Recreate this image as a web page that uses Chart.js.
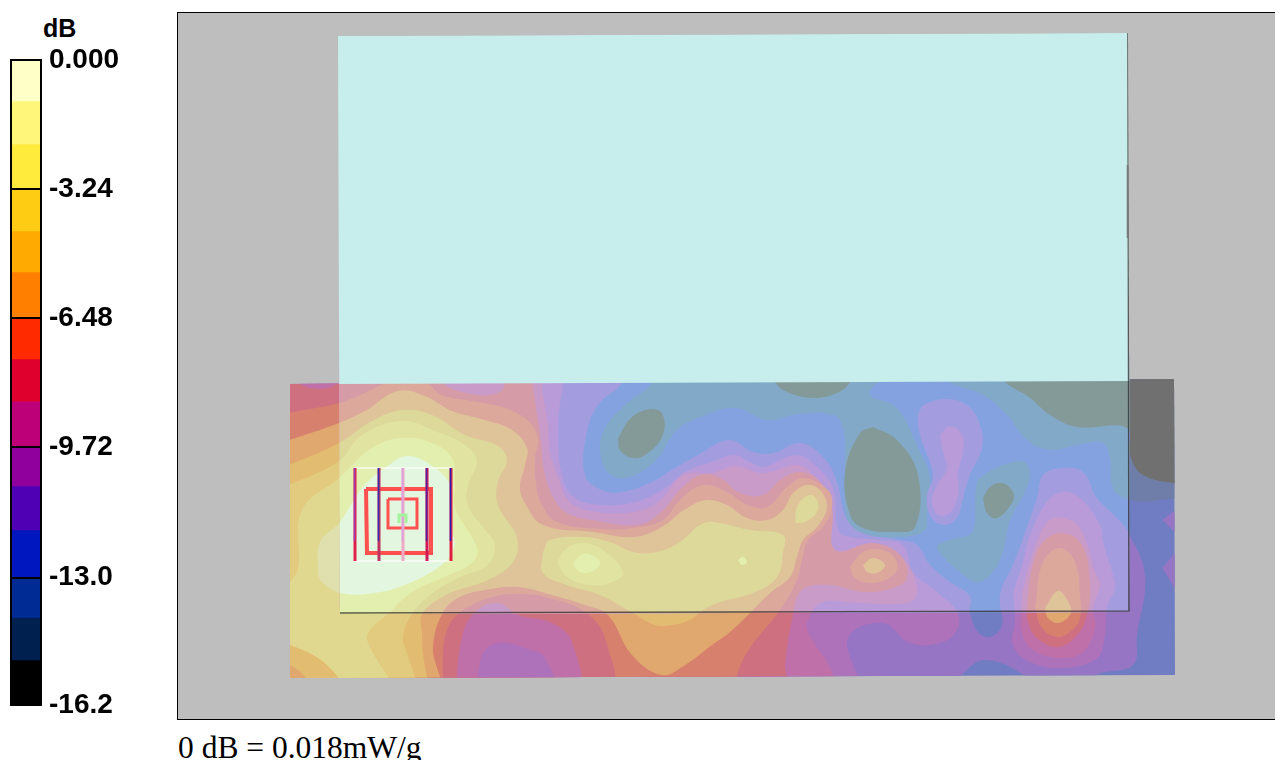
<!DOCTYPE html>
<html lang="en">
<head>
<meta charset="UTF-8">
<title>SAR scan</title>
<script src="https://cdn.jsdelivr.net/npm/chart.js"></script>
<style>
    html, body { margin: 0; padding: 0; background: #fff; overflow: hidden; }
    canvas { position: absolute; display: block; }
    #scale { left: 0; top: 0; }
    #frame { position: absolute; left: 177px; top: 12px; width: 1098px; height: 706px; background: #bebebe;
             border: 1px solid #000; border-right: none; box-sizing: content-box; }
    #field, #phantom { left: 0; top: 0; }
    #unit { position: absolute; left: 43px; top: 14px; font: bold 25px "Liberation Sans", sans-serif; }
    #caption { position: absolute; left: 178px; top: 730px; font: 31.5px "Liberation Serif", serif; white-space: nowrap; }
</style>
</head>
<body>
<div id="unit">dB</div>
<canvas id="scale" width="178" height="730"></canvas>
<div id="frame">
    <canvas id="field" width="1098" height="706"></canvas>
    <canvas id="phantom" width="1098" height="706"></canvas>
</div>
<div id="caption">0 dB = 0.018mW/g</div>

<script>
// colour scale, top band first
const bandSizes = [1.03, 1.08, 1.13, 1.05, 1.03, 1.16, 1.03, 1.06, 1.15, 0.98, 1.1, 1.2, 1.0, 1.07, 1.13];
const bandColors = ['#FFFFC8', '#FFF67A', '#FFEB3C', '#FFCC14', '#FFAA00', '#FF7F00', '#FF2A00', '#E0002D',
                    '#BE0078', '#90009C', '#5000B4', '#0016BE', '#002B94', '#002050', '#000000'];
const tickValues = [0, -3.24, -6.48, -9.72, -13.0, -16.2];
const tickLabels = ['0.000', '-3.24', '-6.48', '-9.72', '-13.0', '-16.2'];

// field colours per contour level, low to high: bare field and seen through the phantom
const outsideColors = ['#707070', '#6F7EA8', '#717DC2', '#9575C4', '#AE72BA', '#BF70A8', '#CE7080', '#D8806E',
                       '#E0A86E', '#E2BC70', '#E2CA7E', '#E0D88E', '#E0DFAE'];
const insideColors = ['#849A99', '#83A9C8', '#84A2E0', '#A39DE0', '#B89BD8', '#C89BC8', '#D59CA8', '#DCA89C',
                      '#DEC498', '#DDD99A', '#E1E4A0', '#E2EFAE', '#E3F6DF'];

// contours, [x, y]
const base = [[280, 370], [1185, 370], [1185, 690], [280, 690]];
const gray1 = [[1003, 370], [1003, 380], [1030, 398], [1050, 415], [1077, 427], [1127, 428], [1130, 455], [1143, 475], [1180, 484], [1190, 484], [1190, 370]];
const gray2 = [[873, 427], [860, 433], [845, 472], [850, 515], [863, 528], [893, 532], [915, 527], [918, 475], [897, 440]];
const gray3 = [[775, 370], [775, 382], [787, 392], [813, 398], [837, 393], [850, 382], [850, 370]];
const gray4 = [[983, 498], [990, 487], [1002, 483], [1013, 492], [1012, 503], [997, 518], [987, 513]];
const gray5 = [[618, 438], [632, 417], [652, 409], [663, 415], [662, 437], [645, 455], [632, 458], [620, 450]];
const teal1 = [[652, 370], [652, 383], [625, 405], [603, 432], [602, 462], [615, 477], [635, 475], [658, 458], [675, 432], [698, 418], [735, 408], [767, 420], [800, 414], [833, 415], [843, 428], [845, 458], [845, 502], [850, 525], [870, 535], [903, 537], [925, 530], [927, 515], [930, 478], [920, 452], [897, 408], [870, 395], [877, 383], [887, 376], [887, 370]];
const teal2 = [[950, 370], [950, 382], [983, 395], [1007, 415], [1027, 440], [1050, 450], [1077, 445], [1103, 443], [1110, 458], [1113, 488], [1130, 500], [1160, 500], [1190, 490], [1190, 370]];
const teal3 = [[975, 498], [980, 478], [1017, 461], [1028, 465], [1028, 485], [1010, 520], [1000, 560], [980, 582], [960, 572], [940, 553], [938, 545], [950, 540], [972, 532]];
const indigoMain = [[280, 370], [622, 370], [622, 383], [598, 405], [587, 432], [585, 475], [602, 490], [622, 492], [652, 482], [675, 468], [698, 455], [730, 440], [753, 452], [773, 453], [800, 443], [823, 457], [837, 482], [845, 515], [860, 532], [900, 540], [917, 545], [930, 565], [950, 582], [970, 596], [970, 612], [978, 632], [990, 637], [1002, 625], [1000, 595], [1013, 565], [1023, 538], [1037, 498], [1043, 475], [1063, 468], [1083, 472], [1097, 498], [1117, 518], [1128, 532], [1145, 575], [1137, 635], [1133, 665], [1097, 675], [1090, 690], [1030, 690], [1027, 677], [985, 660], [962, 675], [955, 690], [280, 690]];
const indigoIsle = [[923, 405], [943, 399], [967, 405], [980, 425], [982, 448], [970, 475], [963, 498], [957, 518], [943, 525], [930, 515], [927, 495], [933, 475], [920, 435], [918, 415]];
const indigoEdge1 = [[1162, 520], [1180, 510], [1180, 534]];
const indigoEdge2 = [[1162, 568], [1180, 551], [1180, 592]];
const purpleMain = [[280, 370], [563, 370], [563, 383], [558, 425], [562, 475], [575, 498], [605, 505], [635, 502], [662, 490], [685, 472], [712, 462], [735, 455], [750, 462], [763, 467], [797, 455], [817, 467], [833, 488], [837, 525], [843, 535], [877, 540], [903, 545], [913, 572], [937, 592], [957, 612], [958, 628], [943, 642], [910, 643], [883, 623], [848, 638], [853, 690], [280, 690]];
const purplePeak = [[1013, 593], [1023, 562], [1030, 535], [1047, 502], [1063, 492], [1080, 498], [1100, 525], [1103, 542], [1113, 575], [1115, 588], [1107, 608], [1105, 635], [1097, 658], [1063, 668], [1030, 662], [1013, 645], [1015, 620]];
const purpleIsle = [[940, 435], [950, 426], [962, 435], [963, 452], [958, 472], [958, 495], [950, 513], [938, 515], [932, 502], [937, 485], [947, 468], [943, 452]];
const magentaMain = [[280, 370], [542, 370], [542, 388], [548, 425], [550, 452], [558, 477], [570, 502], [597, 512], [633, 512], [657, 503], [677, 480], [687, 473], [712, 473], [735, 466], [763, 473], [797, 465], [813, 475], [830, 498], [833, 548], [877, 545], [903, 558], [917, 588], [910, 602], [857, 603], [823, 602], [810, 615], [808, 632], [830, 668], [832, 690], [280, 690]];
const magentaPeak = [[1022, 595], [1030, 562], [1047, 522], [1063, 518], [1080, 528], [1095, 572], [1100, 585], [1093, 608], [1095, 628], [1083, 652], [1060, 658], [1033, 650], [1022, 632]];
const crimsonMain = [[280, 370], [442, 370], [442, 383], [472, 394], [498, 393], [505, 383], [505, 370], [530, 370], [533, 388], [538, 420], [541, 442], [544, 470], [553, 497], [567, 513], [593, 520], [637, 525], [660, 513], [680, 490], [700, 475], [720, 478], [740, 493], [763, 495], [780, 480], [800, 472], [820, 482], [832, 508], [835, 550], [873, 543], [900, 555], [907, 578], [893, 588], [863, 592], [830, 585], [802, 590], [793, 615], [785, 665], [785, 690], [280, 690]];
const crimsonPeak = [[1027, 605], [1032, 568], [1043, 542], [1063, 533], [1082, 545], [1090, 582], [1087, 615], [1077, 635], [1058, 647], [1037, 638], [1028, 622]];
const redMain = [[280, 415], [289, 413], [339, 403], [365, 393], [388, 383], [425, 383], [442, 395], [472, 401], [505, 408], [528, 421], [538, 438], [535, 458], [536, 483], [542, 505], [557, 522], [600, 529], [633, 528], [663, 520], [680, 500], [703, 485], [727, 492], [748, 505], [767, 507], [787, 487], [803, 478], [828, 490], [832, 507], [823, 527], [808, 540], [802, 560], [797, 580], [780, 610], [750, 648], [737, 675], [737, 690], [280, 690]];
const redSpot = [[850, 567], [863, 552], [883, 550], [897, 562], [893, 575], [873, 583], [855, 578]];
const redPeak = [[1035, 608], [1043, 562], [1060, 548], [1075, 562], [1080, 595], [1080, 618], [1070, 632], [1057, 637], [1042, 628]];
const orangeMain = [[280, 442], [289, 440], [339, 423], [365, 411], [398, 391], [425, 396], [452, 411], [485, 420], [512, 430], [527, 448], [525, 465], [520, 487], [525, 503], [543, 525], [593, 532], [633, 537], [660, 528], [687, 508], [707, 500], [727, 505], [747, 518], [767, 520], [783, 510], [793, 493], [807, 485], [820, 490], [827, 507], [817, 527], [803, 540], [797, 557], [790, 577], [770, 593], [750, 613], [730, 632], [712, 645], [685, 665], [662, 675], [632, 655], [608, 615], [585, 605], [552, 595], [518, 587], [485, 590], [458, 598], [442, 614], [433, 647], [436, 690], [280, 690]];
const orangeSpot = [[863, 565], [873, 558], [885, 565], [877, 573], [867, 572]];
const orangePeak = [[1045, 608], [1058, 591], [1070, 605], [1070, 615], [1058, 623], [1048, 618]];
const amberMain = [[280, 468], [289, 465], [339, 443], [372, 421], [402, 410], [432, 415], [465, 435], [498, 446], [507, 461], [498, 481], [498, 505], [517, 538], [513, 562], [488, 580], [458, 590], [442, 597], [422, 614], [422, 633], [423, 653], [427, 677], [430, 690], [280, 690]];
const amberRight = [[543, 552], [550, 540], [583, 537], [610, 542], [633, 552], [657, 552], [680, 542], [700, 525], [713, 522], [750, 530], [783, 535], [783, 553], [777, 577], [753, 593], [720, 602], [703, 610], [690, 620], [672, 625], [655, 625], [633, 613], [600, 595], [567, 585], [543, 573]];
const amberTip = [[795, 523], [798, 505], [810, 495], [817, 500], [817, 512], [805, 522]];
const goldMain = [[280, 487], [289, 485], [339, 461], [362, 435], [402, 421], [435, 431], [465, 445], [477, 461], [468, 485], [468, 506], [487, 532], [495, 545], [488, 565], [458, 578], [430, 595], [412, 614], [403, 637], [407, 653], [415, 677], [418, 690], [280, 690]];
const goldRight = [[557, 562], [567, 548], [583, 543], [603, 550], [623, 573], [610, 583], [590, 585], [567, 577]];
const amberCornerLow = [[280, 643], [290, 645], [318, 658], [338, 677], [345, 690], [280, 690]];
const orangeCornerLow = [[280, 662], [290, 665], [305, 677], [310, 690], [280, 690]];
const yellowMain = [[280, 592], [290, 582], [298, 568], [302, 510], [339, 478], [372, 448], [402, 438], [432, 443], [452, 458], [455, 485], [455, 508], [477, 548], [472, 563], [442, 578], [412, 592], [388, 614], [368, 633], [370, 647], [388, 677], [395, 690], [280, 690]];
const yellowRight = [[573, 563], [583, 554], [597, 558], [600, 565], [587, 573], [577, 570]];
const yellowDot = [[738, 560], [743, 557], [747, 562], [742, 565]];
const paleMain = [[318, 575], [320, 542], [340, 522], [362, 488], [385, 468], [408, 456], [435, 468], [450, 485], [450, 508], [452, 532], [455, 545], [445, 562], [412, 582], [375, 593], [340, 593], [322, 582]];
const pitCrimson = [[444, 695], [443, 653], [448, 627], [458, 614], [472, 605], [492, 597], [518, 594], [545, 597], [585, 612], [605, 638], [608, 695]];
const pitMagenta = [[455, 695], [462, 637], [475, 612], [498, 603], [518, 615], [552, 623], [572, 642], [575, 695]];
const pitPurple = [[477, 695], [482, 655], [498, 643], [525, 648], [545, 658], [553, 695]];
const cornerMagenta = [[295, 375], [300, 384], [318, 389], [335, 385], [340, 375]];

// painted in this order, [contour, level]
const fieldLayers = [
    [base, 2], [gray1, 0], [teal1, 1], [teal2, 1], [teal3, 1], [gray1, 0], [gray2, 0], [gray3, 0], [gray4, 0], [gray5, 0],
    [indigoMain, 3], [indigoIsle, 3], [indigoEdge1, 3], [indigoEdge2, 3],
    [purpleMain, 4], [purplePeak, 4], [purpleIsle, 4],
    [magentaMain, 5], [magentaPeak, 5],
    [crimsonMain, 6], [crimsonPeak, 6],
    [redMain, 7], [redSpot, 7], [redPeak, 7],
    [orangeMain, 8], [orangeSpot, 8], [orangePeak, 8],
    [amberMain, 9], [amberRight, 9], [amberTip, 9],
    [goldMain, 10], [goldRight, 10],
    [yellowMain, 11], [yellowRight, 11], [yellowDot, 11],
    [amberCornerLow, 9], [orangeCornerLow, 8],
    [paleMain, 12],
    [pitCrimson, 6], [pitMagenta, 5], [pitPurple, 4], [cornerMagenta, 5]
];

const fieldEdge = [[290, 384], [1174, 379], [1175, 675], [290, 678]];
const phantomEdge = [[338, 36], [1128, 33], [1130, 612], [340, 614]];
const phantomTop = [[338, 36], [1128, 33], [1130, 381], [338, 384]];
const phantomLine = [[1128, 33], [1129, 611], [340, 613]];
const phantomDark = [[1128, 165], [1128, 238]];

// probe: the five leads, frame and the two square windings
const leadX = [355, 379, 403, 427, 451];
const leadColors = ['#E0204C', '#C03060', '#EFA8C8', '#D01858', '#E02040'];
const leadInner = ['#A040B0', '#3030B0', '#D8A0E0', '#5020A0', '#2020C0'];
const leadTop = 468;
const leadBottom = 561;
const probeFrame = [[355, 468], [451, 468], [451, 561], [355, 561], [355, 468]];
const windingOuter = [[366, 489], [431, 489], [431, 553], [367, 553], [366, 489]];
const windingInner = [[388, 499], [417, 499], [417, 528], [388, 528], [388, 499]];
const probeCentre = [[399, 523], [399, 515], [406, 515], [406, 523]];

function toPoints(list) {
    return list.map(p => ({ x: p[0], y: p[1] }));
}

function filled(list, color, tension) {
    const pts = toPoints(list);
    pts.push(pts[0]);
    return { data: pts, showLine: true, fill: 'shape', backgroundColor: color, borderWidth: 0, pointRadius: 0, tension: tension };
}

function stroked(list, color, width) {
    return { data: toPoints(list), showLine: true, fill: false, borderColor: color, borderWidth: width, pointRadius: 0, tension: 0 };
}

function layerSets(colors) {
    return fieldLayers.map(l => filled(l[0], colors[l[1]], 0.4));
}

// clips all datasets of a chart to a polygon given in data values
function clipTo(polygon) {
    return {
        id: 'clipTo',
        beforeDatasetsDraw(chart) {
            const ctx = chart.ctx;
            ctx.save();
            ctx.beginPath();
            polygon.forEach((p, i) => {
                const x = chart.scales.x.getPixelForValue(p[0]);
                const y = chart.scales.y.getPixelForValue(p[1]);
                if (i == 0) ctx.moveTo(x, y); else ctx.lineTo(x, y);
            });
            ctx.closePath();
            ctx.clip();
        },
        afterDatasetsDraw(chart) {
            chart.ctx.restore();
        }
    };
}

function scanChart(id, datasets, polygon) {
    // first in the list is painted first
    datasets.forEach((d, i) => { d.order = datasets.length - i; });
    return new Chart(document.getElementById(id), {
        type: 'scatter',
        data: { datasets: datasets },
        plugins: [clipTo(polygon)],
        options: {
            responsive: false,
            animation: false,
            events: [],
            layout: { padding: 0 },
            plugins: { legend: { display: false }, tooltip: { enabled: false } },
            scales: {
                x: { display: false, min: 178, max: 1276 },
                y: { display: false, reverse: true, min: 13, max: 719 }
            }
        }
    });
}

const fieldChart = scanChart('field', layerSets(outsideColors), fieldEdge);

const probeSets = [];
leadX.forEach((x, i) => {
    probeSets.push(stroked([[x, leadTop], [x, leadBottom]], leadColors[i], 3));
    probeSets.push(stroked([[x - 0.5, leadTop], [x - 0.5, leadBottom - 20]], leadInner[i], 1.5));
});

const phantomChart = scanChart('phantom', [
    ...layerSets(insideColors),
    filled(phantomTop, '#C7EEEC', 0),
    stroked(phantomLine, 'rgba(50,40,40,0.75)', 1.6),
    stroked(phantomDark, '#777777', 2.5),
    stroked(probeFrame, 'rgba(255,255,255,0.75)', 1.5),
    stroked(windingOuter, '#FF5050', 4),
    stroked(windingInner, '#FF5050', 3),
    ...probeSets,
    stroked(probeCentre, '#A4F49C', 3)
], phantomEdge);

// colour scale
const barBorder = {
    id: 'barBorder',
    afterDatasetsDraw(chart) {
        const a = chart.chartArea;
        chart.ctx.save();
        chart.ctx.strokeStyle = '#000';
        chart.ctx.lineWidth = 2;
        chart.ctx.strokeRect(a.left, a.top, a.right - a.left, a.bottom - a.top);
        chart.ctx.restore();
    }
};

new Chart(document.getElementById('scale'), {
    type: 'bar',
    data: {
        labels: ['dB'],
        datasets: bandColors.map((c, i) => ({ data: [-bandSizes[i]], backgroundColor: c, barPercentage: 1, categoryPercentage: 1 }))
    },
    plugins: [barBorder],
    options: {
        responsive: false,
        animation: false,
        events: [],
        layout: { padding: { left: 11, top: 60, bottom: 25 } },
        plugins: { legend: { display: false }, tooltip: { enabled: false } },
        scales: {
            x: { display: false, stacked: true },
            y: {
                position: 'right',
                stacked: true,
                min: -16.2,
                max: 0,
                afterBuildTicks(axis) { axis.ticks = tickValues.map(v => ({ value: v })); },
                afterFit(axis) { axis.width = 137; },
                grid: { color: '#000', lineWidth: 2, z: 1, drawTicks: false },
                border: { display: false },
                ticks: {
                    autoSkip: false,
                    maxRotation: 0,
                    padding: 8,
                    labelOffset: 0,
                    color: '#000',
                    font: { family: 'Liberation Sans', weight: 'bold', size: 28 },
                    callback(value, index) { return tickLabels[index]; }
                }
            }
        }
    }
});
</script>
</body>
</html>
